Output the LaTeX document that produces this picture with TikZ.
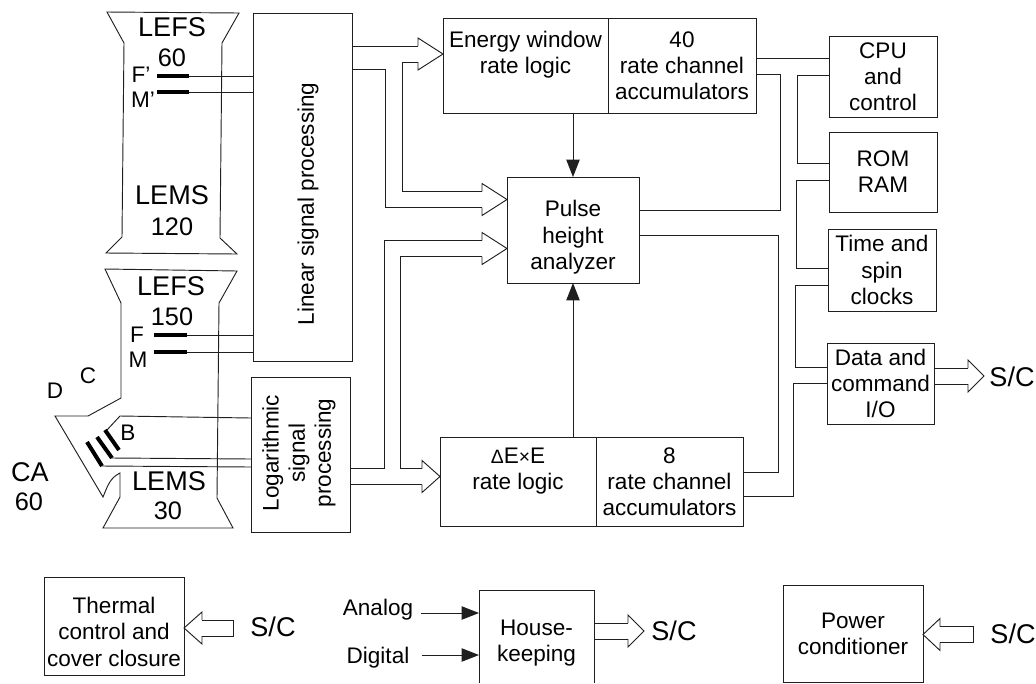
\documentclass[tikz,border=0pt]{standalone}
\usepackage{fontspec}
\setmainfont{Liberation Sans}
\usepackage{xcolor}
\usetikzlibrary{arrows.meta}

\definecolor{inkline}{gray}{0.12}
\newcommand{\labelfont}{\fontsize{16.9}{19.6}\selectfont}
\newcommand{\biglabelfont}{\fontsize{20.3}{24}\selectfont}
\newcommand{\sizelabelfont}{\fontsize{19}{24}\selectfont}
\newcommand{\smallglyph}[1]{{\fontsize{14.5}{19.6}\selectfont #1}}

\tikzset{
  wire/.style={draw=inkline, line width=0.7pt},
  plate/.style={draw=black, line width=3pt},
  solidarrow/.style={wire, -{Triangle[length=13pt,width=10pt]}},
  boxtext/.style={align=center, inner sep=0pt, outer sep=0pt, font=\labelfont},
  blockbox/.style={boxtext, draw=inkline, line width=0.7pt},
  boxwh/.style 2 args={minimum width=#1*0.75pt, minimum height=#2*0.75pt},
  biglabel/.style={inner sep=0pt, font=\biglabelfont},
  sizelabel/.style={inner sep=0pt, font=\sizelabelfont},
  smalllabel/.style={inner sep=0pt, font=\labelfont},
  pics/hollowhead/.style={code={
    \draw[wire] (-#1,-8) -- (-#1,-16) -- (0,0) -- (-#1,16) -- (-#1,8);
  }},
}

\begin{document}
\begin{tikzpicture}[x=0.75pt, y=-0.75pt]
    \useasboundingbox (0,0) rectangle (1036,683);

    % detector heads
    \draw[wire] (107,12) -- (239,13) -- (222,43) -- (220,238) -- (237,254) -- (106,253)
      -- (122,237) -- (124,43) -- cycle;
    \draw[wire] (105,269) -- (237,271) -- (219,303) -- (217,498) -- (233,528) -- (103,528)
      -- (120,497) -- (120,473) .. controls (110,478) and (108,485) .. (103,497)
      -- (55,416) -- (88,416) -- (121,398) -- (121,303) -- cycle;

    \node[biglabel] (lefsa) at (172,27) {LEFS};
    \node[sizelabel] (lefsasize) at (172,58) {60};
    \node[biglabel] (lemsa) at (172,195) {LEMS};
    \node[sizelabel] (lemsasize) at (172,227) {120};
    \node[smalllabel] (flabela) at (141,75) {F'};
    \node[smalllabel] (mlabela) at (143,100) {M'};
    \node[biglabel] (lefsb) at (171,286) {LEFS};
    \node[sizelabel] (lefsbsize) at (172,317) {150};
    \node[smalllabel] (flabelb) at (137,335) {F};
    \node[smalllabel] (mlabelb) at (138,360) {M};
    \node[smalllabel] (clabel) at (88,376) {C};
    \node[smalllabel] (dlabel) at (55,391) {D};
    \node[smalllabel] (blabel) at (128,433) {B};
    \node[biglabel] (calabel) at (30,472) {CA};
    \node[sizelabel] (casize) at (29,502) {60};
    \node[biglabel] (lemsb) at (169,481) {LEMS};
    \node[sizelabel] (lemsbsize) at (168,511) {30};

    % processing blocks
    \node[blockbox, boxwh={99}{348}] (linear) at (302.5,187) {};
    \node[boxtext, rotate=90] (lineartext) at (308,204) {Linear signal processing};
    \node[blockbox, boxwh={99}{155}] (log) at (300.5,454.5) {};
    \node[boxtext, rotate=90] (logtext) at (299,453) {Logarithmic\\signal\\processing};

    \node[blockbox, boxwh={165}{95}] (enlogic) at (525.5,65.5) {Energy window\\rate logic\\\mbox{}};
    \node[blockbox, boxwh={148}{95}] (enaccum) at (682,65.5) {40\\rate channel\\accumulators};
    \node[blockbox, boxwh={132}{106}] (pulse) at (573,230) {\rule{0pt}{23pt}Pulse\\height\\analyzer};
    \node[blockbox, boxwh={156}{89}] (drlogic) at (518,481.5) {\smallglyph{Δ}E\smallglyph{×}E\\rate logic\\\mbox{}};
    \node[blockbox, boxwh={147}{89}] (draccum) at (669.5,481.5) {8\\rate channel\\accumulators};

    \node[blockbox, boxwh={108}{81}] (cpu) at (883,76.5) {CPU\\and\\control};
    \node[blockbox, boxwh={108}{80}] (rom) at (883,172) {ROM\\RAM};
    \node[blockbox, boxwh={108}{82}] (clocks) at (882,270) {Time and\\spin\\clocks};
    \node[blockbox, boxwh={107}{81}] (data) at (880.5,383.5) {Data and\\command\\I/O};

    \node[blockbox, boxwh={140}{98}] (thermal) at (114,626) {\rule{0pt}{21pt}Thermal\\control and\\cover closure};
    \node[boxtext, boxwh={115}{93}] (house) at (536.5,636.5) {\rule{0pt}{21pt}House-\\keeping};
    \node[blockbox, boxwh={140}{97}] (power) at (853,633.5) {Power\\conditioner};
    \draw[wire] (house.south west) -- (house.north west) -- (house.north east) -- (house.south east);

    \node[smalllabel] (analog) at (378,610) {Analog};
    \node[smalllabel] (digital) at (378,658) {Digital};
    \node[biglabel] (scdata) at (1012,377) {S/C};
    \node[biglabel] (scthermal) at (273,627) {S/C};
    \node[biglabel] (schouse) at (674,631) {S/C};
    \node[biglabel] (scpower) at (1013,634) {S/C};

    % detector plates and their signal lines
    \coordinate (fplatea) at (189,76);
    \coordinate (mplatea) at (189,92);
    \coordinate (fplateb) at (187,335);
    \coordinate (mplateb) at (187,352);
    \draw[plate] (157,76) -- (fplatea);
    \draw[plate] (157,92) -- (mplatea);
    \draw[plate] (154,335) -- (fplateb);
    \draw[plate] (154,352) -- (mplateb);
    \draw[wire] (fplatea) -- (fplatea -| linear.west);
    \draw[wire] (mplatea) -- (mplatea -| linear.west);
    \draw[wire] (fplateb) -- (fplateb -| linear.west);
    \draw[wire] (mplateb) -- (mplateb -| linear.west);

    \coordinate (bplatea) at (119,450);
    \coordinate (bplateb) at (112,458);
    \coordinate (bplatec) at (102,466);
    \draw[plate] (105,430) -- (bplatea);
    \draw[plate] (97,437) -- (bplateb);
    \draw[plate] (87,442) -- (bplatec);
    \draw[wire] (log.west |- 0,418) -- (120,416) -- (107,430);
    \draw[wire] (log.west |- 0,459) -- (bplateb);
    \draw[wire] (log.west |- 0,467) -- (bplatec);

    % hollow arrows
    \coordinate (entip) at (enlogic.west |- 0,54);
    \coordinate (pulsetipa) at (pulse.west |- 0,199.5);
    \coordinate (pulsetipb) at (pulse.west |- 0,248.5);
    \coordinate (drtip) at (drlogic.west |- 0,476.5);
    \coordinate (datatip) at (984,376);
    \coordinate (housetip) at (644,631);
    \coordinate (thermaltip) at (thermal.east |- 0,628);
    \coordinate (powertip) at (power.east |- 0,634.5);

    \pic at (entip) {hollowhead=25};
    \pic at (pulsetipa) {hollowhead=25};
    \pic at (pulsetipb) {hollowhead=25};
    \pic at (drtip) {hollowhead=18};
    \pic at (datatip) {hollowhead=16};
    \pic at (housetip) {hollowhead=16};
    \pic[rotate=180] at (thermaltip) {hollowhead=18};
    \pic[rotate=180] at (powertip) {hollowhead=17};

    \draw[wire] (linear.east |- 0,46) -- ([shift={(-25,-8)}]entip);
    \draw[wire] ([shift={(-25,8)}]entip) -| (402,191.5) -- ([shift={(-25,-8)}]pulsetipa);
    \draw[wire] (linear.east |- 0,69) -| (385,207.5) -- ([shift={(-25,8)}]pulsetipa);
    \draw[wire] (log.east |- 0,468) -| (384,240.5) -- ([shift={(-25,-8)}]pulsetipb);
    \draw[wire] ([shift={(-25,8)}]pulsetipb) -| (400,468.5) -- ([shift={(-18,-8)}]drtip);
    \draw[wire] (log.east |- 0,484.5) -- ([shift={(-18,8)}]drtip);
    \draw[wire] (data.east |- 0,368) -- ([shift={(-16,-8)}]datatip);
    \draw[wire] (data.east |- 0,384) -- ([shift={(-16,8)}]datatip);
    \draw[wire] (house.east |- 0,623) -- ([shift={(-16,-8)}]housetip);
    \draw[wire] (house.east |- 0,639) -- ([shift={(-16,8)}]housetip);
    \draw[wire] ([shift={(18,-8)}]thermaltip) -- ++(31,0) -- ++(0,16) -- ([shift={(18,8)}]thermaltip);
    \draw[wire] ([shift={(17,-8)}]powertip) -- ++(33,0) -- ++(0,16) -- ([shift={(17,8)}]powertip);

    % solid arrows
    \draw[solidarrow] (pulse.north |- enlogic.south) -- (pulse.north);
    \draw[solidarrow] (pulse.south |- drlogic.north) -- (pulse.south);
    \draw[solidarrow] ([shift={(8,3)}]analog.east) -- (house.west |- 0,613);
    \draw[solidarrow] ([shift={(12,-3)}]digital.east) -- (house.west |- 0,655);

    % bus on the right
    \draw[wire] (enaccum.east |- 0,58) -- (cpu.west |- 0,58);
    \draw[wire] (enaccum.east |- 0,74) -| (780,210.5) -- (pulse.east |- 0,210.5);
    \draw[wire] (pulse.east |- 0,235.5) -| (778,472) -- (draccum.east |- 0,472);
    \draw[wire] (draccum.east |- 0,496) -| (793,383) -- (data.west |- 0,383);
    \draw[wire] (data.west |- 0,367) -| (795,285) -- (clocks.west |- 0,285);
    \draw[wire] (clocks.west |- 0,268) -| (796,180) -- (rom.west |- 0,180);
    \draw[wire] (rom.west |- 0,163.5) -| (797,75) -- (cpu.west |- 0,75);
\end{tikzpicture}
\end{document}
